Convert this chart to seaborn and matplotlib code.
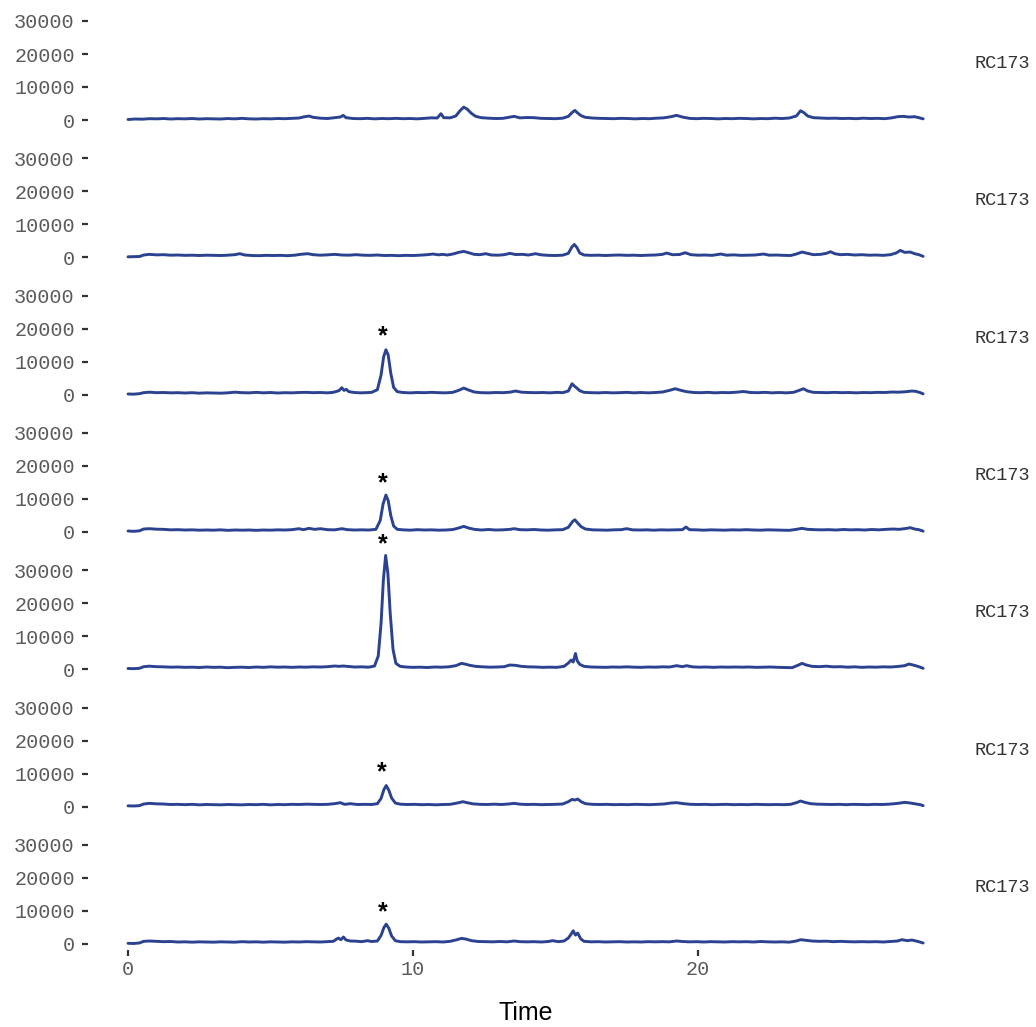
import matplotlib
matplotlib.use("Agg")
import matplotlib.pyplot as plt
import pandas as pd
import seaborn as sns

# ---------------- data ----------------
sample_labels = ["RC173", "RC173", "RC173", "RC173", "RC173", "RC173", "RC173"]
y_ticks = [0, 10000, 20000, 30000]
x_ticks = [0, 10, 20]

trace_1 = [(0.0,150),(0.25,300),(0.5,250),(0.75,400),(1.0,350),(1.25,450),(1.5,300),(1.75,400),(2.0,350),(2.25,450),
(2.5,300),(2.75,400),(3.0,350),(3.25,300),(3.5,450),(3.75,350),(4.0,500),(4.25,350),(4.5,300),(4.75,400),(5.0,350),
(5.25,450),(5.5,400),(5.75,500),(6.0,600),(6.2,1000),(6.35,1200),(6.5,800),(6.75,550),(7.0,450),(7.25,700),(7.45,900),
(7.55,1400),(7.65,700),(7.9,450),(8.15,400),(8.4,500),(8.65,350),(8.9,450),(9.15,400),(9.4,500),(9.65,400),(9.9,450),
(10.15,350),(10.4,500),(10.65,650),(10.85,600),(10.98,1900),(11.08,700),(11.3,650),(11.5,1200),(11.65,2800),(11.78,3900),
(11.9,3300),(12.05,2000),(12.2,1100),(12.4,700),(12.65,550),(12.9,450),(13.15,500),(13.35,800),(13.55,1100),(13.75,650),
(14.0,750),(14.25,700),(14.5,500),(14.75,450),(15.0,400),(15.25,550),(15.45,1100),(15.6,2400),(15.68,2900),(15.78,2100),
(15.9,1300),(16.05,800),(16.3,600),(16.55,500),(16.8,450),(17.05,400),(17.3,500),(17.55,450),(17.8,350),(18.05,450),
(18.3,400),(18.55,550),(18.8,650),(19.05,1000),(19.25,1400),(19.45,900),(19.7,500),(19.95,400),(20.2,500),(20.45,450),
(20.7,350),(20.95,450),(21.2,400),(21.45,500),(21.7,450),(21.95,350),(22.2,450),(22.45,400),(22.7,550),(22.95,450),
(23.2,600),(23.45,1200),(23.6,2800),(23.72,2200),(23.85,1200),(24.05,700),(24.3,600),(24.55,500),(24.8,550),(25.05,450),
(25.3,500),(25.55,400),(25.8,550),(26.05,450),(26.3,500),(26.55,400),(26.8,650),(27.0,1000),(27.2,1100),(27.4,900),
(27.6,1000),(27.75,700),(27.9,350)]

trace_2 = [(0.0,150),(0.2,200),(0.4,250),(0.55,700),(0.75,900),(1.0,750),(1.25,800),(1.5,650),(1.75,700),(2.0,600),
(2.25,650),(2.5,550),(2.75,650),(3.0,600),(3.25,550),(3.5,650),(3.75,800),(3.92,1100),(4.1,700),(4.35,550),(4.6,500),
(4.85,600),(5.1,550),(5.35,600),(5.6,500),(5.85,650),(6.05,900),(6.3,1100),(6.5,800),(6.75,650),(7.0,750),(7.25,900),
(7.5,700),(7.75,650),(8.0,800),(8.25,650),(8.5,600),(8.75,700),(9.0,550),(9.25,600),(9.5,500),(9.75,600),(10.0,550),
(10.25,650),(10.5,800),(10.7,1000),(10.9,750),(11.05,900),(11.2,700),(11.4,1000),(11.6,1500),(11.78,1800),(11.95,1400),
(12.15,900),(12.35,800),(12.55,1100),(12.75,700),(13.0,650),(13.2,800),(13.4,1200),(13.6,850),(13.85,900),(14.05,700),
(14.3,1100),(14.5,750),(14.75,600),(15.0,550),(15.25,650),(15.45,1200),(15.58,3200),(15.66,3900),(15.75,3000),
(15.85,1300),(16.0,700),(16.25,600),(16.5,650),(16.75,550),(17.0,650),(17.25,700),(17.5,600),(17.75,650),(18.0,550),
(18.25,650),(18.5,700),(18.75,900),(18.9,1300),(19.1,800),(19.35,850),(19.55,1400),(19.75,800),(20.0,650),(20.25,700),
(20.5,600),(20.8,1000),(21.0,650),(21.25,750),(21.5,600),(21.75,650),(22.0,700),(22.3,1000),(22.5,650),(22.75,700),
(23.0,600),(23.25,550),(23.45,1000),(23.65,1600),(23.85,1200),(24.05,800),(24.3,900),(24.5,1200),(24.65,1700),
(24.8,1100),(25.0,800),(25.25,900),(25.5,700),(25.75,800),(26.0,650),(26.25,700),(26.5,600),(26.75,800),(26.95,1300),
(27.1,2100),(27.25,1500),(27.45,1600),(27.6,1100),(27.75,800),(27.9,300)]

trace_3 = [(0.0,200),(0.2,150),(0.4,300),(0.55,600),(0.75,750),(1.0,600),(1.25,650),(1.5,550),(1.75,600),(2.0,500),
(2.25,600),(2.5,450),(2.75,550),(3.0,500),(3.25,450),(3.5,550),(3.75,750),(4.0,600),(4.25,550),(4.5,700),(4.75,550),
(5.0,650),(5.25,500),(5.5,600),(5.75,550),(6.0,650),(6.25,700),(6.5,600),(6.75,650),(7.0,550),(7.2,700),(7.4,1200),
(7.5,2100),(7.58,1300),(7.66,1600),(7.75,900),(7.95,650),(8.15,550),(8.35,600),(8.55,700),(8.75,1500),(8.88,6000),
(8.97,11500),(9.05,13600),(9.13,12000),(9.22,6500),(9.32,2200),(9.45,900),(9.65,650),(9.9,550),(10.15,650),(10.4,600),
(10.65,700),(10.9,600),(11.15,550),(11.4,700),(11.6,1300),(11.78,2000),(11.95,1400),(12.15,800),(12.4,600),(12.65,550),
(12.9,650),(13.15,600),(13.4,750),(13.6,1100),(13.8,750),(14.05,650),(14.3,600),(14.55,650),(14.8,550),(15.05,700),
(15.25,600),(15.45,1100),(15.58,3300),(15.65,2700),(15.72,2200),(15.85,1200),(16.0,700),(16.25,600),(16.5,550),
(16.75,650),(17.0,550),(17.25,600),(17.5,700),(17.75,550),(18.0,650),(18.25,550),(18.5,650),(18.75,800),(19.0,1300),
(19.2,1800),(19.4,1300),(19.6,900),(19.85,650),(20.1,600),(20.35,700),(20.6,550),(20.85,650),(21.1,600),(21.35,750),
(21.6,950),(21.85,650),(22.1,600),(22.35,700),(22.6,550),(22.85,650),(23.1,550),(23.35,700),(23.55,1300),(23.7,1800),
(23.85,1100),(24.05,700),(24.3,650),(24.55,600),(24.8,700),(25.05,600),(25.3,650),(25.55,550),(25.8,650),(26.05,600),
(26.3,700),(26.55,650),(26.8,800),(27.05,750),(27.3,900),(27.5,1100),(27.65,1000),(27.8,600),(27.9,250)]

trace_4 = [(0.0,300),(0.2,200),(0.4,350),(0.55,900),(0.75,1000),(1.0,850),(1.25,800),(1.5,650),(1.75,700),(2.0,600),
(2.25,650),(2.5,550),(2.75,600),(3.0,550),(3.25,650),(3.5,500),(3.75,600),(4.0,550),(4.25,600),(4.5,500),(4.75,600),
(5.0,550),(5.25,650),(5.5,600),(5.75,700),(6.0,1000),(6.15,700),(6.35,1100),(6.55,800),(6.75,1000),(7.0,700),(7.25,650),
(7.5,1000),(7.7,700),(7.95,600),(8.2,650),(8.45,600),(8.7,800),(8.85,3500),(8.95,8500),(9.05,11200),(9.13,9500),
(9.22,5000),(9.32,1800),(9.45,800),(9.65,650),(9.9,550),(10.15,700),(10.4,600),(10.65,650),(10.9,550),(11.15,600),
(11.4,750),(11.6,1200),(11.78,1700),(11.95,1200),(12.15,800),(12.4,600),(12.65,750),(12.9,600),(13.15,650),(13.4,800),
(13.55,1000),(13.75,700),(14.0,650),(14.25,750),(14.5,600),(14.75,550),(15.0,650),(15.25,700),(15.45,1400),(15.6,3200),
(15.68,3700),(15.78,2700),(15.9,1600),(16.05,900),(16.3,650),(16.55,600),(16.8,550),(17.05,650),(17.3,700),(17.5,1000),
(17.7,650),(17.95,600),(18.2,650),(18.45,550),(18.7,650),(18.95,600),(19.2,650),(19.45,700),(19.58,1500),(19.7,700),
(19.95,650),(20.2,550),(20.45,650),(20.7,600),(20.95,550),(21.2,650),(21.45,600),(21.7,700),(21.95,600),(22.2,550),
(22.45,650),(22.7,600),(22.95,550),(23.2,500),(23.45,800),(23.65,1100),(23.85,800),(24.1,700),(24.35,650),(24.6,700),
(24.85,600),(25.1,750),(25.35,650),(25.6,700),(25.85,600),(26.1,750),(26.35,650),(26.6,800),(26.85,900),(27.05,800),
(27.25,1000),(27.45,1300),(27.6,900),(27.75,700),(27.9,250)]

trace_5 = [(0.0,250),(0.2,200),(0.4,300),(0.55,800),(0.75,950),(1.0,800),(1.25,750),(1.5,650),(1.75,700),(2.0,600),
(2.25,650),(2.5,550),(2.75,700),(3.0,600),(3.25,650),(3.5,500),(3.75,600),(4.0,650),(4.25,550),(4.5,700),(4.75,600),
(5.0,750),(5.25,650),(5.5,700),(5.75,600),(6.0,700),(6.25,650),(6.5,750),(6.75,700),(7.0,800),(7.25,1000),(7.4,900),
(7.55,1000),(7.75,850),(7.95,700),(8.2,750),(8.45,650),(8.65,1000),(8.78,4000),(8.88,14000),(8.96,27000),(9.04,34500),
(9.12,29000),(9.2,17000),(9.3,6000),(9.4,1800),(9.55,900),(9.75,700),(10.0,600),(10.25,650),(10.5,550),(10.75,700),
(11.0,650),(11.25,750),(11.5,1100),(11.7,1800),(11.82,1600),(12.0,1200),(12.2,900),(12.45,750),(12.7,650),(12.95,700),
(13.2,800),(13.4,1300),(13.6,1200),(13.8,900),(14.05,750),(14.3,700),(14.55,600),(14.8,650),(15.05,600),(15.3,900),
(15.45,1900),(15.55,2800),(15.62,2200),(15.7,4800),(15.76,2600),(15.85,1500),(16.0,900),(16.25,700),(16.5,650),
(16.75,600),(17.0,700),(17.25,650),(17.5,750),(17.75,650),(18.0,600),(18.25,700),(18.5,650),(18.75,750),(19.0,700),
(19.25,1100),(19.45,800),(19.6,1100),(19.8,750),(20.05,650),(20.3,700),(20.55,600),(20.8,700),(21.05,650),(21.3,700),
(21.55,650),(21.8,700),(22.05,600),(22.3,650),(22.55,700),(22.8,600),(23.05,550),(23.3,500),(23.5,1200),(23.65,1800),
(23.8,1300),(24.0,900),(24.25,800),(24.5,950),(24.75,750),(25.0,800),(25.25,650),(25.5,750),(25.75,600),(26.0,700),
(26.25,650),(26.5,750),(26.75,700),(27.0,850),(27.25,1100),(27.4,1600),(27.55,1300),(27.75,800),(27.9,300)]

trace_6 = [(0.0,250),(0.2,200),(0.4,300),(0.55,800),(0.75,1000),(1.0,850),(1.25,800),(1.5,650),(1.75,700),(2.0,600),
(2.25,700),(2.5,550),(2.75,650),(3.0,600),(3.25,550),(3.5,650),(3.75,600),(4.0,550),(4.25,650),(4.5,600),(4.75,700),
(5.0,550),(5.25,650),(5.5,600),(5.75,700),(6.0,650),(6.25,750),(6.5,700),(6.75,650),(7.0,700),(7.25,900),(7.45,1200),
(7.6,700),(7.8,900),(8.05,650),(8.3,700),(8.55,650),(8.75,900),(8.88,2500),(8.98,5200),(9.06,6400),(9.15,5000),
(9.25,2600),(9.38,1100),(9.55,750),(9.8,650),(10.05,700),(10.3,600),(10.55,650),(10.8,550),(11.05,650),(11.3,700),
(11.55,1100),(11.75,1500),(11.9,1200),(12.1,850),(12.35,700),(12.6,650),(12.85,750),(13.1,650),(13.35,800),(13.55,1000),
(13.75,750),(14.0,650),(14.25,700),(14.5,600),(14.75,650),(15.0,700),(15.25,800),(15.45,1500),(15.58,2200),(15.68,2000),
(15.78,2300),(15.9,1500),(16.05,900),(16.3,700),(16.55,650),(16.8,700),(17.05,600),(17.3,650),(17.55,600),(17.8,700),
(18.05,650),(18.3,600),(18.55,700),(18.8,800),(19.05,1100),(19.25,1200),(19.5,900),(19.75,700),(20.0,650),(20.25,700),
(20.5,600),(20.75,650),(21.0,700),(21.25,600),(21.5,650),(21.75,600),(22.0,700),(22.25,650),(22.5,600),(22.75,650),
(23.0,600),(23.25,700),(23.45,1200),(23.6,1700),(23.75,1300),(23.95,900),(24.2,750),(24.45,700),(24.7,650),(24.95,700),
(25.2,600),(25.45,700),(25.7,650),(25.95,600),(26.2,700),(26.45,650),(26.7,750),(26.9,900),(27.1,1100),(27.25,1300),
(27.45,1100),(27.65,800),(27.8,600),(27.9,300)]

trace_7 = [(0.0,200),(0.2,150),(0.4,300),(0.55,800),(0.75,900),(1.0,800),(1.25,700),(1.5,750),(1.75,600),(2.0,650),
(2.25,550),(2.5,650),(2.75,600),(3.0,550),(3.25,650),(3.5,600),(3.75,550),(4.0,700),(4.25,600),(4.5,650),(4.75,550),
(5.0,650),(5.25,600),(5.5,550),(5.75,650),(6.0,600),(6.25,700),(6.5,650),(6.75,600),(7.0,700),(7.2,800),(7.38,1800),
(7.47,1300),(7.56,2100),(7.65,1200),(7.8,900),(8.0,850),(8.2,700),(8.4,1000),(8.55,750),(8.75,900),(8.88,2600),
(8.98,5000),(9.06,6000),(9.15,4800),(9.25,2400),(9.38,1000),(9.55,700),(9.8,650),(10.05,700),(10.3,600),(10.55,650),
(10.8,700),(11.05,600),(11.3,800),(11.5,1200),(11.7,1700),(11.85,1500),(12.05,1000),(12.3,750),(12.55,700),(12.8,650),
(13.05,750),(13.3,650),(13.55,900),(13.75,700),(14.0,650),(14.25,700),(14.5,600),(14.75,750),(14.9,1000),(15.1,700),
(15.3,900),(15.45,1800),(15.55,3000),(15.62,4000),(15.7,2700),(15.78,3300),(15.88,1600),(16.0,800),(16.25,650),
(16.5,700),(16.75,600),(17.0,650),(17.25,700),(17.5,600),(17.75,650),(18.0,600),(18.25,700),(18.5,650),(18.75,700),
(19.0,650),(19.25,900),(19.45,750),(19.7,650),(19.95,700),(20.2,600),(20.45,700),(20.7,650),(20.95,600),(21.2,700),
(21.45,650),(21.7,700),(21.95,600),(22.2,750),(22.45,650),(22.7,600),(22.95,650),(23.2,550),(23.45,900),(23.6,1300),
(23.8,1100),(24.0,900),(24.25,800),(24.5,850),(24.75,700),(25.0,800),(25.25,700),(25.5,650),(25.75,700),(26.0,650),
(26.25,700),(26.5,600),(26.75,750),(27.0,900),(27.15,1300),(27.35,1000),(27.5,1200),(27.7,800),(27.9,300)]

# asterisk markers (panel index, time, intensity)
star_panel = [2, 3, 4, 5, 6]
star_time = [8.95, 8.95, 8.95, 8.92, 8.95]
star_value = [17300, 14400, 37400, 9900, 9300]

traces = [trace_1, trace_2, trace_3, trace_4, trace_5, trace_6, trace_7]
frames = []
for i, tr in enumerate(traces):
    frames.append(pd.DataFrame({"Time": [p[0] for p in tr],
                                "Intensity": [p[1] for p in tr],
                                "panel": i}))
df = pd.concat(frames, ignore_index=True)

# ---------------- style ----------------
sns.set_style("white")
plt.rcParams["font.family"] = ["Liberation Sans", "DejaVu Sans"]

W, H = 1036, 1027
fig = plt.figure(figsize=(W / 100, H / 100), dpi=100)

px_per_unit = 3.3 / 1000.0
y_lo, y_hi = -1800, 36000
zero0, pitch = 120.0, 137.33
x_left_px, x_right_px = 88.0, 963.0
x0_px, px_per_min = 128.0, 28.5
x_lo = (x_left_px - x0_px) / px_per_min
x_hi = (x_right_px - x0_px) / px_per_min

line_color = "#2a4290"
tick_color = "#333333"
label_color = "#5a5a5a"
mono = "Liberation Mono"

axes = []
for i in range(7):
    zero_px = zero0 + pitch * i
    bottom_px = zero_px - y_lo * px_per_unit
    height_px = (y_hi - y_lo) * px_per_unit
    ax = fig.add_axes([x_left_px / W, 1 - bottom_px / H,
                       (x_right_px - x_left_px) / W, height_px / H])
    sub = df[df["panel"] == i]
    sns.lineplot(data=sub, x="Time", y="Intensity", ax=ax, color=line_color,
                 linewidth=2.1, estimator=None, sort=False)
    ax.set_xlim(x_lo, x_hi)
    ax.set_ylim(y_lo, y_hi)
    ax.set_yticks(y_ticks)
    ax.set_yticklabels([str(v) for v in y_ticks], fontfamily=mono,
                       fontsize=14.5, color=label_color)
    ax.tick_params(axis="y", length=4.5, width=1.6, color=tick_color,
                   pad=5, left=True)
    if i == 6:
        ax.set_xticks(x_ticks)
        ax.set_xticklabels([str(v) for v in x_ticks], fontfamily=mono,
                           fontsize=14.5, color=label_color)
        ax.tick_params(axis="x", length=4.5, width=1.6, color=tick_color,
                       pad=3, bottom=True)
    else:
        ax.set_xticks([])
    ax.set_xlabel("")
    ax.set_ylabel("")
    for s in ax.spines.values():
        s.set_visible(False)
    ax.patch.set_alpha(0)
    center_px = zero_px - (y_hi + y_lo) / 2 * px_per_unit
    fig.text(975 / W, 1 - center_px / H, sample_labels[i], ha="left",
             va="center", fontfamily=mono, fontsize=13.4, color="#333333")
    axes.append(ax)

for p, t, v in zip(star_panel, star_time, star_value):
    axes[p].text(t, v + 400, "*", ha="center", va="center", fontsize=18,
                 fontweight="bold", fontfamily="Liberation Sans",
                 color="black", clip_on=False)

fig.text(526 / W, 1 - 1013 / H, "Time", ha="center", va="center",
         fontsize=18, color="black")

fig.savefig("out.png", dpi=100, facecolor="white")
